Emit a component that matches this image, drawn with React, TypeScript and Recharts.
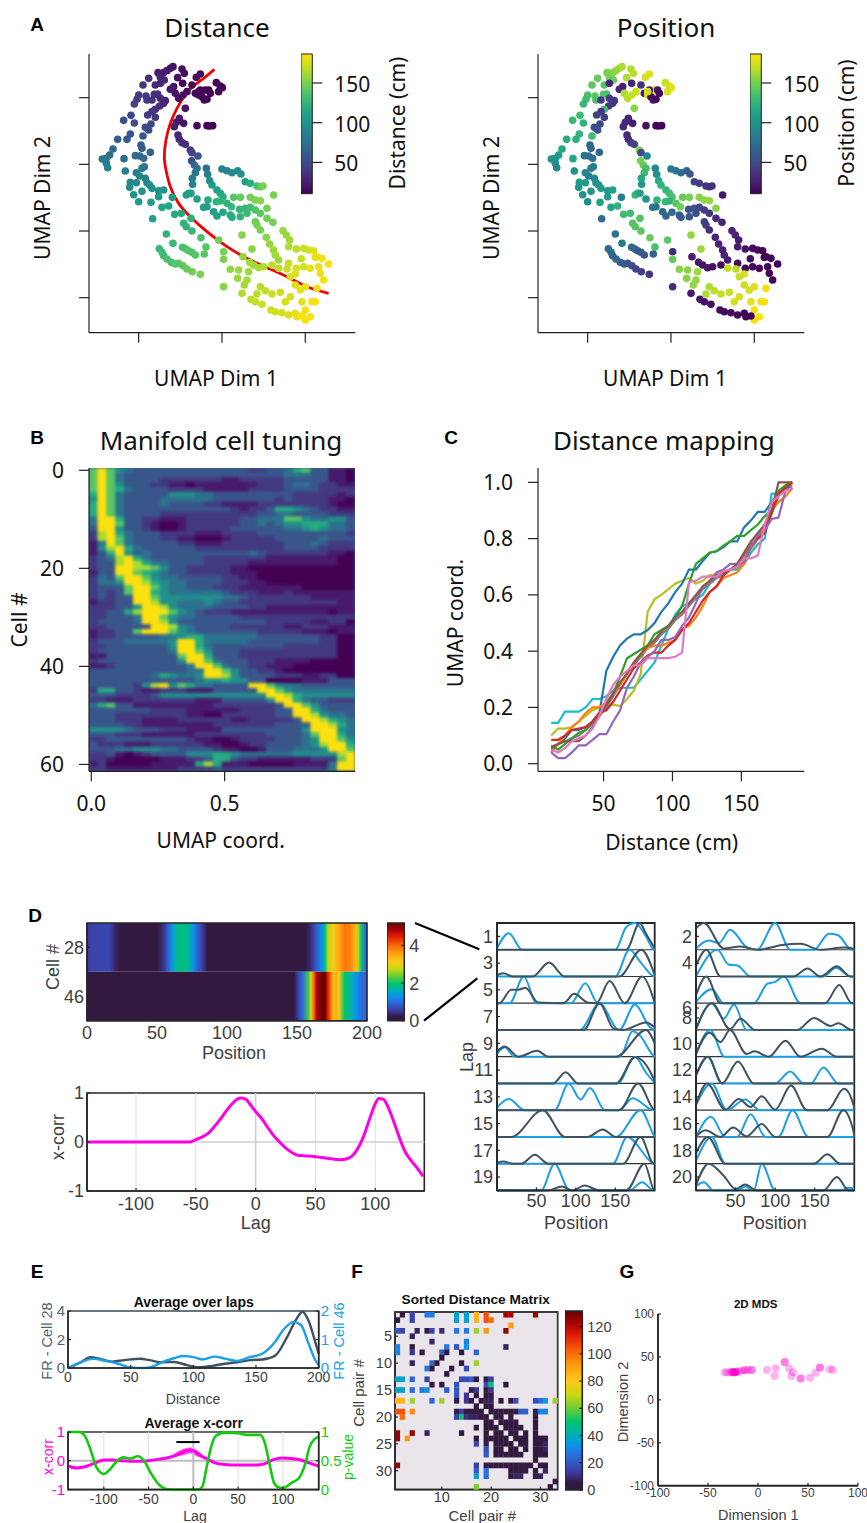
import {
  Area,
  ComposedChart,
  Line,
  ReferenceArea,
  ReferenceLine,
  Scatter,
  XAxis,
  YAxis,
} from 'recharts'

const MYRIAD = '"Noto Sans", sans-serif'
const ARIAL = '"Liberation Sans", Arial, sans-serif'
const GREY = '#404040'
const DARK_CELL = '#3d5360'
const BLUE_CELL = '#1b9fe6'
const MAGENTA = '#ff00e6'
const GREEN = '#12cc0c'

// UMAP embedding, one row per time bin: [dim 1, dim 2, distance cm, position cm]
const UMAP_TOP_ARC = [
  [103, 693, 18, 165], [95, 688, 20, 165], [85, 681, 22, 160], [75, 675, 25, 155], [58, 675, 25, 150],
  [65, 661, 28, 150], [77, 653, 28, 145], [30, 658, 35, 145], [13, 638, 38, 142], [50, 638, 32, 140],
  [65, 643, 30, 28], [130, 686, 18, 165], [137, 673, 15, 168], [117, 660, 18, 165], [132, 643, 15, 30],
  [185, 671, 15, 178], [173, 661, 15, 175], [160, 638, 15, 35], [233, 645, 13, 172], [245, 635, 13, 175],
  [251, 630, 13, 178], [240, 618, 14, 176], [105, 633, 20, 25], [95, 625, 22, 28], [110, 613, 20, 165],
  [0, 608, 42, 135], [-5, 595, 42, 132], [-13, 581, 45, 128], [22, 605, 40, 140], [25, 593, 40, 135],
  [47, 610, 35, 140], [57, 611, 35, 135], [65, 598, 32, 42], [80, 591, 30, 38], [40, 593, 36, 42],
  [120, 598, 18, 168], [133, 608, 16, 170], [145, 618, 15, 172], [170, 613, 12, 22], [180, 608, 12, 175],
  [190, 603, 11, 15], [200, 623, 11, 178], [210, 623, 11, 20], [215, 613, 11, 15], [185, 623, 12, 22],
  [197, 593, 11, 20], [205, 595, 11, 15], [180, 618, 12, 175],
]
const UMAP_INNER = [
  [75, 583, 30, 38], [63, 575, 32, 38], [50, 565, 35, 130], [40, 558, 38, 40], [27, 548, 40, 45],
  [50, 541, 38, 42], [-23, 547, 48, 130], [-45, 532, 52, 128], [-13, 524, 52, 125], [140, 568, 20, 155],
  [122, 538, 22, 28], [113, 526, 24, 30], [107, 513, 25, 30], [135, 523, 20, 25], [175, 516, 14, 18],
  [205, 516, 12, 15], [222, 516, 11, 12], [212, 515, 12, 14],
]
const UMAP_LEFT = [
  [37, 521, 48, 50], [20, 511, 50, 52], [30, 503, 50, 55], [13, 485, 58, 130], [-25, 491, 55, 125],
  [-35, 475, 58, 122], [-63, 475, 62, 120], [7, 458, 62, 68], [10, 448, 62, 68], [-77, 446, 68, 118],
  [-87, 428, 75, 110], [-97, 418, 78, 105], [-109, 416, 80, 100], [-97, 403, 85, 95], [-93, 390, 88, 90],
  [35, 436, 65, 70], [-10, 426, 72, 78], [3, 425, 70, 75], [15, 418, 72, 78], [-44, 417, 75, 115],
  [17, 393, 78, 82], [10, 388, 80, 85], [-7, 375, 85, 90], [-40, 380, 88, 100], [3, 365, 88, 88],
  [20, 358, 85, 92], [25, 345, 88, 98], [-25, 346, 92, 105], [-7, 345, 92, 105], [-27, 331, 95, 105],
  [33, 338, 95, 102], [40, 328, 98, 105], [60, 321, 100, 105], [75, 323, 102, 110], [10, 319, 100, 102],
  [-15, 309, 102, 100], [60, 303, 105, 108], [0, 288, 105, 95], [37, 286, 108, 110], [101, 301, 105, 85],
  [150, 313, 108, 120], [143, 308, 108, 125], [157, 313, 108, 112], [70, 271, 112, 115], [90, 275, 112, 122],
  [108, 250, 118, 130], [128, 253, 118, 132], [42, 237, 108, 72], [157, 238, 122, 138], [135, 223, 125, 138],
  [143, 213, 125, 140], [160, 200, 128, 142], [83, 191, 125, 78], [187, 180, 135, 145], [103, 163, 130, 82],
  [202, 152, 140, 135], [197, 131, 140, 65], [132, 151, 135, 70], [142, 146, 136, 68], [150, 141, 138, 62],
  [160, 136, 138, 60], [170, 128, 140, 58], [62, 147, 128, 72], [70, 136, 130, 72], [75, 126, 132, 70],
  [85, 116, 135, 68], [98, 106, 135, 65], [110, 101, 138, 60], [120, 103, 140, 55], [133, 96, 142, 52],
  [145, 86, 145, 48], [161, 78, 148, 45], [185, 70, 152, 38],
]
const UMAP_CENTRE = [
  [118, 488, 28, 30], [122, 475, 30, 32], [130, 465, 32, 40], [140, 460, 35, 45], [155, 443, 40, 155],
  [160, 435, 45, 48], [178, 425, 58, 92], [159, 411, 52, 150], [167, 398, 68, 145], [175, 388, 75, 135],
  [170, 375, 78, 130], [161, 358, 85, 118], [162, 340, 90, 105], [203, 388, 75, 92], [207, 370, 85, 100],
  [213, 351, 98, 118], [220, 338, 105, 125], [235, 323, 110, 125], [245, 313, 115, 130], [253, 303, 120, 135],
  [285, 301, 140, 145], [305, 301, 145, 150], [335, 301, 150, 155], [350, 293, 152, 158], [365, 291, 155, 158],
  [405, 308, 150, 22], [233, 288, 122, 130], [245, 290, 125, 125], [265, 283, 125, 140], [278, 273, 128, 148],
  [208, 293, 118, 125], [175, 296, 112, 102], [195, 271, 108, 80], [205, 273, 108, 78], [225, 258, 112, 72],
  [235, 245, 112, 68], [253, 256, 115, 70], [275, 248, 118, 62], [280, 241, 120, 62], [303, 265, 125, 58],
  [305, 243, 125, 60], [320, 268, 128, 55], [325, 253, 130, 52], [335, 271, 132, 48], [350, 263, 138, 42],
  [365, 253, 142, 38], [385, 268, 150, 155], [385, 238, 148, 32], [403, 226, 150, 28], [240, 173, 148, 142],
  [310, 188, 155, 158], [340, 146, 155, 160],
  [250, 386, 85, 82], [265, 381, 88, 78], [280, 375, 92, 72], [297, 381, 95, 65], [307, 371, 100, 58],
  [320, 348, 110, 48], [335, 343, 120, 42], [355, 335, 135, 38], [365, 333, 142, 35], [373, 335, 150, 35],
]
const UMAP_LOWER = [
  [350, 228, 148, 45], [355, 218, 150, 42], [365, 203, 152, 35], [383, 181, 155, 30], [393, 161, 158, 28],
  [405, 143, 160, 27], [410, 128, 162, 25], [420, 113, 162, 25], [433, 201, 158, 28], [443, 188, 160, 28],
  [453, 173, 162, 25], [450, 153, 165, 25], [473, 146, 168, 20], [495, 148, 172, 15], [510, 143, 175, 14],
  [525, 141, 178, 12], [535, 123, 182, 12], [550, 118, 185, 12], [570, 101, 187, 10], [488, 117, 172, 15],
  [530, 121, 180, 12], [255, 138, 150, 32], [255, 115, 152, 145], [313, 123, 158, 25], [275, 85, 158, 155],
  [333, 106, 162, 22], [345, 98, 162, 20], [360, 90, 165, 20], [375, 93, 165, 18], [400, 98, 168, 16],
  [420, 88, 168, 170], [450, 103, 172, 15], [445, 86, 172, 168], [473, 88, 175, 14], [495, 93, 175, 14],
  [470, 71, 178, 175], [455, 63, 175, 172], [515, 88, 180, 12], [540, 93, 182, 12], [545, 73, 182, 12],
  [555, 53, 185, 12], [470, 38, 178, 172], [485, 23, 180, 175], [500, 33, 182, 178], [535, 28, 185, 185],
  [330, 78, 162, 160], [300, 83, 160, 155], [297, 58, 160, 155], [325, 53, 162, 158], [317, 38, 162, 158],
  [255, 33, 155, 30], [310, 13, 165, 25], [365, 33, 168, 165], [380, 21, 170, 168], [355, 11, 168, 165],
  [400, 11, 172, 170], [425, 16, 174, 172], [455, 3, 176, 175], [440, -12, 176, 175], [490, -12, 180, 180],
  [520, -12, 184, 185], [530, -12, 184, 185], [337, -5, 168, 20], [350, -12, 170, 20], [370, -20, 172, 20],
  [397, -37, 174, 15], [410, -42, 175, 15], [430, -45, 176, 15], [450, -52, 178, 14], [470, -47, 180, 12],
  [475, -57, 182, 12], [500, -37, 184, 185], [515, -57, 186, 186], [500, -67, 186, 186], [490, -55, 185, 12],
]
const PRINCIPAL_CURVE = [
  [227, 685], [195, 658], [165, 635], [140, 608], [115, 568], [95, 523], [82, 473], [77, 423], [82, 383],
  [95, 333], [120, 283], [155, 243], [205, 198], [265, 153], [325, 118], [385, 90], [445, 63], [505, 33], [570, 13],
]

// Manifold cell tuning, one string per cell, one digit (0-9) per UMAP coordinate bin
const TUNING_ROWS = [
  '797543333333333333223346733110', '797433333333333333333344433110', '797433332222222112222233333110',
  '797533322110111111122234432211', '797643333222211111222233332222', '697433333555443333333332222212',
  '597433334444443333333232222110', '697433334333322111122222222100', '697433333333333321223665432211',
  '697433332222222222233443333222', '499633221112222223344477544553', '499733210012222223343455666443',
  '399533210012222233333344565443', '289643332222111222233333333332', '289743332211000122222333334333',
  '149743333322111222222233343222', '158964333333222222222233332222', '136953433333333333432222222110',
  '234896433333322222221111111100', '233898644333322222111111111100', '233998875332222211000000000000',
  '133997654332222211100000000000', '243799754433333221100000000000', '244599865443333222110000000000',
  '233379975443332221111111000000', '232379965444444322211121111111', '232339975555555443222222211111',
  '122339985544454332222222222211', '222335998544443333221111111111', '223368999754322211111111111011',
  '223334997544333332222222222222', '233334998533333333332222211220', '223333399854333322222211222111',
  '122337999754333333322222111011', '122333334456644444433333332200', '233344444599644444333333332200',
  '223333333599643333333322222200', '233333333499753332222222222200', '113333333379963332222222222200',
  '233333333359974333222111100000', '112333333334997433221110000000', '333333333334499753322100000000',
  '333333346544599853333222112200', '333333333333455655330000111333', '333332589576443333997544333333',
  '266332112221113333399754444444', '333222235555555555559986555555', '221112222222111333335996433222',
  '467331111111112222222399753333', '333333322221111112222339964333', '333222222221100222222339985443',
  '333222111122222211222223998654', '333322111111112222222333399864', '555543332221111333333333599954',
  '333222111111222222223333479964', '223333333332110012222333459975', '322211122222211001223333458996',
  '333445554433332110013334445997', '223101233335556654444445555589', '221000001112236632211111122279',
  '120000011111686111000001111499', '221111111122223222222222222499',
]
const TUNING_TICKS_X = [0, 0.5]
const TUNING_TICKS_Y = [0, 20, 40, 60]

// Distance mapping
const MAP_DISTANCE = [12, 17, 22, 27, 32, 37, 42, 47, 52, 57, 62, 67, 72, 77, 82, 87, 92, 97, 102, 107, 112, 117, 122, 127, 132, 137, 142, 147, 152, 157, 162, 167, 172, 177, 182, 187]
const MAP_CYAN = [.145, .145, .185, .185, .185, .2, .23, .23, .24, .26, .27, .27, .27, .3, .33, .36, .42, .48, .53, .56, .57, .585, .6, .64, .66, .68, .69, .69, .71, .75, .78, .8, .96, .96, .98, .975]
const MAP_OLIVE = [.1, .125, .125, .13, .15, .17, .19, .2, .205, .21, .205, .23, .26, .32, .54, .585, .6, .62, .64, .65, .66, .64, .65, .67, .67, .68, .69, .7, .74, .76, .8, .83, .89, .96, .98, 1]
const MAP_GRAY = [.06, .07, .08, .09, .1, .12, .14, .17, .2, .24, .28, .32, .35, .38, .41, .43, .46, .48, .51, .53, .56, .59, .62, .64, .66, .67, .69, .7, .74, .78, .8, .84, .89, .95, .98, .99]
const MAP_BLUE = [.05, .07, .09, .12, .12, .13, .15, .18, .33, .38, .42, .445, .46, .46, .475, .5, .54, .57, .61, .64, .69, .69, .72, .75, .755, .77, .79, .79, .84, .865, .895, .895, .93, .96, .98, .98]
const MAP_ORANGE = [.04, .07, .1, .13, .15, .18, .2, .2, .22, .25, .28, .32, .36, .39, .41, .42, .42, .43, .44, .48, .49, .52, .56, .61, .63, .66, .67, .68, .71, .77, .8, .85, .9, .93, .95, .98]
const MAP_GREEN = [.065, .05, .07, .09, .11, .12, .15, .18, .21, .25, .31, .375, .39, .405, .42, .46, .475, .49, .52, .56, .64, .71, .73, .75, .755, .775, .79, .81, .81, .83, .85, .88, .9, .97, .99, 1]
const MAP_RED = [.085, .085, .1, .12, .125, .13, .15, .18, .19, .22, .26, .3, .34, .36, .385, .395, .395, .42, .44, .475, .5, .54, .58, .61, .63, .67, .69, .7, .72, .77, .8, .82, .89, .96, .98, 1]
const MAP_PURPLE = [.04, .02, .02, .04, .065, .065, .085, .105, .105, .15, .19, .27, .31, .36, .38, .4, .44, .44, .45, .49, .52, .57, .63, .65, .68, .69, .71, .71, .72, .77, .81, .83, .87, .875, .97, .98]
const MAP_BROWN = [.055, .07, .08, .08, .08, .1, .13, .17, .21, .25, .29, .32, .36, .39, .42, .44, .47, .49, .52, .54, .57, .6, .63, .65, .67, .68, .69, .71, .75, .79, .82, .85, .9, 1, 1, 1]
const MAP_PINK = [.05, .04, .055, .08, .09, .1, .125, .17, .23, .28, .31, .33, .35, .35, .375, .375, .375, .375, .38, .395, .645, .65, .665, .665, .665, .685, .69, .7, .73, .73, .74, .85, .93, .95, .97, .98]
const MAP_SERIES: [number[], string][] = [
  [MAP_CYAN, '#17becf'], [MAP_OLIVE, '#bcbd22'], [MAP_GRAY, '#7f7f7f'], [MAP_BLUE, '#1f77b4'], [MAP_ORANGE, '#ff7f0e'],
  [MAP_GREEN, '#2ca02c'], [MAP_RED, '#d62728'], [MAP_PURPLE, '#9467bd'], [MAP_BROWN, '#8c564b'], [MAP_PINK, '#e377c2'],
]

// Mean rate by position for the two example cells
const RATE_28 = [[0, .5], [4, .62], [16, .62], [20, .35], [24, .05], [26, 0], [48, 0], [50, .1], [54, .4], [58, .9], [60, 1.2], [62, 1.5], [64, 1.8], [70, 1.9], [74, 1.6], [76, 1.3], [78, 1], [82, .6], [86, .1], [88, 0], [150, 0], [156, .1], [160, .4], [164, .9], [168, 1.3], [170, 1.9], [172, 2.7], [176, 3.1], [180, 3.5], [184, 3.9], [188, 3.8], [192, 3.3], [194, 2.6], [196, 2], [198, 1.2], [200, .9]]
const RATE_46 = [[0, 0], [146, 0], [148, .1], [150, .5], [154, 1], [158, 2.2], [160, 3], [162, 4], [164, 4.8], [168, 5.2], [170, 5.2], [172, 4.5], [174, 4], [176, 3.2], [178, 3.5], [180, 3], [184, 2], [188, 1.7], [192, 1.3], [196, 1], [200, .9]]

const XCORR = [[-140, 0], [-55, 0], [-50, .05], [-45, .1], [-40, .17], [-35, .3], [-30, .45], [-25, .62], [-20, .77], [-15, .88], [-12, .9], [-8, .87], [-5, .78], [0, .62], [5, .48], [10, .3], [15, .13], [20, 0], [25, -.12], [30, -.21], [35, -.27], [40, -.28], [50, -.3], [60, -.33], [70, -.36], [75, -.35], [80, -.3], [85, -.15], [90, .1], [95, .45], [100, .78], [103, .89], [107, .87], [110, .75], [115, .45], [120, .1], [125, -.2], [130, -.38], [135, -.53], [140, -.7]]

// Per-lap rates: [position, normalised rate] at the turning points of each trace
const ODD_LAPS = [
  { lap: 1, c28: [[164, 0], [181, 1], [189, .6], [200, .05]], c46: [[0, .05], [15, .62], [32, 0], [150, 0], [164, .85], [175, 1], [189, .5], [199, 0]] },
  { lap: 3, c28: [[0, .05], [8, .12], [20, 0], [45, 0], [66, .52], [86, 0], [155, 0], [183, 1], [200, .05]], c46: [[150, 0], [168, 1], [183, .5], [198, .02]] },
  { lap: 5, c28: [[3, 0], [18, .5], [27, .5], [36, .58], [52, .03], [84, 0], [98, .35], [115, .03], [126, 0], [143, .83], [162, 0], [184, 1], [199, .1]], c46: [[16, 0], [34, 1], [50, 0], [94, 0], [112, .75], [128, 0]] },
  { lap: 7, c28: [[110, 0], [130, 1], [148, .05], [160, 0], [189, .28], [200, .1]], c46: [[105, 0], [130, .98], [155, 0], [175, .95], [194, .1], [200, 0]] },
  { lap: 9, c28: [[0, .2], [10, .38], [27, 0], [51, .22], [65, 0], [151, 0], [189, 1], [200, .5]], c46: [[0, .1], [10, .35], [22, 0], [156, 0], [172, .95], [181, .8], [199, .02]] },
  { lap: 11, c28: [[71, 0], [87, .42], [103, 0], [151, 0], [175, .98], [199, .15]], c46: [[153, 0], [175, 1], [189, .4], [200, .02]] },
  { lap: 13, c28: [[155, 0], [179, 1], [199, .02]], c46: [[0, .1], [15, .42], [35, 0], [73, 0], [91, 1], [106, .4], [118, .83], [137, 0], [155, 0], [172, .45], [199, 0]] },
  { lap: 15, c28: [[18, 0], [58, 1], [86, 0], [115, 0], [134, .28], [151, 0]], c46: [[151, 0], [182, 1], [199, .05]] },
  { lap: 17, c28: [[0, .03], [8, .08], [20, 0], [31, 0], [48, .33], [65, 0], [160, 0], [182, 1], [199, 0]], c46: [[147, 0], [165, 1], [198, .02]] },
  { lap: 19, c28: [[65, 0], [82, .15], [96, 0], [111, .18], [130, 0], [164, 0], [187, 1], [199, .02]], c46: [[56, 0], [73, 1], [92, 0], [168, 0], [184, .3], [199, 0]] },
]
const EVEN_LAPS = [
  { lap: 2, c28: [[0, .8], [10, 1], [35, .05], [56, .12], [79, 0], [109, .18], [132, .22], [157, 0], [187, .08], [200, .03]], c46: [[0, .05], [16, .35], [29, .25], [43, .75], [64, .1], [77, 0], [100, 1], [119, 0], [149, 0], [168, .6], [179, .55], [197, 0]] },
  { lap: 4, c28: [[0, .4], [13, 1], [31, 0], [123, 0], [141, .3], [157, 0], [178, .38], [195, 0]], c46: [[0, 0], [27, 1], [41, .45], [53, .4], [69, 0], [161, 0], [177, .33], [195, 0]] },
  { lap: 6, c28: [[0, .3], [13, 1], [31, 0], [163, 0], [181, .68], [197, 0]], c46: [[0, .05], [20, .52], [35, 0], [73, 0], [90, .72], [100, .8], [111, 1], [132, 0]] },
  { lap: 8, c28: [[0, .05], [20, 1], [43, .03], [56, .42], [75, 0], [128, 0], [149, .45], [170, .15], [180, .25], [197, 0]], c46: [[0, 0], [20, 1], [35, .42], [48, .95], [64, 0]] },
  { lap: 10, c28: [[0, .1], [17, .9], [31, .55], [43, 1], [64, .1], [74, .2], [92, 0], [113, .6], [132, 0], [159, .3], [178, 0]], c46: [[0, .1], [18, 1], [36, 0]] },
  { lap: 12, c28: [[0, .3], [15, 1], [33, 0], [53, .82], [73, 0]], c46: [[0, .3], [15, 1], [33, 0], [100, 0], [119, .45], [136, 0], [145, 0], [161, .6], [180, 0]] },
  { lap: 14, c28: [[0, .2], [14, 1], [37, .02], [54, .42], [69, .12], [83, .52], [100, .02], [120, .92], [140, 0], [166, 0], [187, .8], [199, .2]], c46: [[0, .2], [20, 1], [39, 0], [62, .4], [81, 0]] },
  { lap: 16, c28: [[0, .02], [12, .25], [31, 0], [47, .35], [64, .02], [83, .48], [100, 0], [166, 0], [186, 1], [199, .2]], c46: [[0, 0], [19, .75], [37, 0], [52, 0], [69, .85], [88, 0], [104, 0], [122, 1], [142, 0]] },
  { lap: 18, c28: [[0, .4], [15, 1], [37, 0], [149, 0], [166, .35], [182, 0]], c46: [[0, .1], [20, 1], [37, 0]] },
  { lap: 20, c28: [[0, .2], [16, 1], [35, .55], [50, .05], [62, .22], [77, 0], [161, 0], [178, .5], [193, 0]], c46: [[0, .15], [10, .3], [22, 0], [52, 0], [62, .15], [73, 0], [83, 1], [100, 0], [182, 0], [193, .1], [200, .05]] },
]
const ODD_TICKS = [[9.5, '1'], [8.5, '3'], [7.5, '5'], [6.5, '7'], [5.5, '9'], [4.5, '11'], [3.5, '13'], [2.5, '15'], [1.5, '17'], [0.5, '19']]
const EVEN_TICKS = [[9.5, '2'], [8.5, '4'], [6.82, '6'], [6.45, '8'], [5.5, '10'], [4.5, '12'], [3.5, '14'], [2.5, '16'], [1.5, '18'], [0.5, '20']]

// Averages over laps
const AVG_28 = [[0, 0], [10, .4], [18, .75], [25, .65], [35, .45], [45, .55], [58, .65], [65, .55], [75, .4], [85, .42], [95, .2], [105, .05], [115, .15], [125, .3], [135, .4], [145, .55], [155, .6], [165, .85], [175, 2.2], [182, 3.4], [187, 3.95], [192, 3.3], [197, 1.9], [200, 1]]
const AVG_46 = [[0, 0], [5, .1], [20, .32], [30, .25], [40, .15], [50, .02], [58, 0], [65, .02], [75, .2], [85, .35], [92, .42], [100, .38], [107, .3], [117, .4], [125, .33], [135, .25], [145, .38], [155, .5], [165, .9], [172, 1.35], [180, 1.62], [186, 1.5], [192, .85], [197, .3], [200, .1]]
const AVG_XCORR = [[-140, -.18], [-130, -.25], [-120, -.2], [-110, -.08], [-100, .03], [-90, .03], [-80, 0], [-60, -.02], [-50, 0], [-40, .05], [-30, .1], [-20, .18], [-10, .32], [-4, .37], [0, .35], [5, .25], [10, .15], [15, .07], [25, -.08], [35, -.13], [50, -.15], [70, -.15], [80, -.1], [90, .05], [100, .1], [110, .08], [120, .03], [130, -.08], [140, -.18]]
const XCORR_BAND = [[-25, .13, .17], [-10, .2, .43], [-4, .25, .46], [5, .14, .34], [12, .08, .16]]
const P_VALUE = [[-140, 1], [-128, 1], [-122, .95], [-115, .7], [-108, .38], [-100, .27], [-92, .37], [-85, .5], [-78, .56], [-70, .54], [-62, .58], [-55, .5], [-48, .3], [-38, .08], [-30, .01], [-20, 0], [5, 0], [10, .05], [15, .4], [20, .75], [25, .93], [35, .99], [50, .98], [60, .95], [75, .95], [80, .8], [85, .45], [90, .12], [95, .04], [100, .03], [110, .12], [118, .2], [125, .45], [130, .75], [135, .87], [140, .92]]

// Sorted distance matrix: [row, column, distance]
const MATRIX_UPPER = [
  [1, 2, 3], [1, 4, 15], [1, 7, 28], [1, 8, 28], [1, 13, 37], [1, 15, 37], [1, 17, 85], [1, 19, 105], [1, 23, 122], [1, 24, 122], [1, 29, 125],
  [2, 1, 4], [2, 4, 15], [2, 13, 37], [2, 15, 37], [2, 17, 85], [2, 19, 105], [2, 20, 100], [3, 24, 92],
  [4, 1, 20], [4, 2, 15], [4, 5, 8], [4, 7, 2], [4, 8, 15], [4, 10, 10], [4, 13, 28], [4, 15, 28], [4, 17, 65], [4, 19, 92], [4, 23, 125],
  [5, 4, 8], [6, 8, 9], [6, 15, 30], [7, 1, 30], [7, 4, 2], [7, 11, 28], [7, 13, 20], [7, 15, 33], [7, 23, 8],
  [8, 1, 30], [8, 4, 12], [8, 6, 6], [8, 10, 22], [8, 11, 2], [8, 14, 5], [8, 17, 24], [9, 10, 2],
  [10, 4, 8], [10, 8, 24], [10, 9, 2], [10, 14, 2], [10, 17, 65], [11, 7, 28], [11, 8, 2], [11, 12, 2], [11, 15, 18], [12, 11, 2],
  [13, 1, 37], [13, 2, 37], [13, 4, 24], [13, 7, 15], [13, 14, 18], [13, 15, 18], [13, 16, 22], [13, 17, 4], [13, 19, 6], [13, 20, 15],
  [14, 8, 2], [14, 10, 2], [14, 13, 20], [14, 19, 18], [14, 20, 50], [14, 23, 2],
  [15, 1, 37], [15, 2, 37], [15, 4, 26], [15, 6, 28], [15, 7, 32], [15, 11, 22], [15, 13, 20], [15, 16, 6], [15, 17, 12], [15, 19, 3], [15, 20, 12],
  [16, 13, 20], [16, 15, 12], [16, 17, 3], [16, 19, 3], [16, 20, 3],
]
const MATRIX_LOWER = [
  [17, 1, 85], [17, 2, 85], [17, 4, 65], [17, 8, 24], [17, 10, 65], [17, 13, 6], [17, 15, 12], [17, 16, 2], [17, 18, 2], [17, 19, 8], [17, 20, 8], [17, 22, 2], [17, 24, 2], [17, 25, 18], [17, 29, 18], [17, 30, 25], [17, 31, 36], [17, 33, 65],
  [18, 17, 2], [18, 19, 2], [18, 20, 2],
  [19, 1, 105], [19, 2, 105], [19, 4, 95], [19, 13, 6], [19, 14, 15], [19, 15, 3], [19, 16, 3], [19, 17, 3], [19, 18, 2], [19, 20, 2], [19, 21, 2], [19, 22, 2], [19, 23, 2], [19, 24, 2], [19, 25, 6], [19, 26, 22], [19, 27, 22], [19, 29, 6], [19, 30, 30], [19, 31, 30],
  [20, 2, 100], [20, 13, 15], [20, 14, 50], [20, 15, 10], [20, 16, 8], [20, 17, 8], [20, 18, 2], [20, 19, 2], [20, 21, 2], [20, 22, 2], [20, 24, 2], [20, 29, 2],
  [21, 19, 2], [21, 20, 2], [21, 22, 2], [21, 23, 2], [21, 24, 2], [21, 25, 2], [21, 29, 2],
  [22, 17, 2], [22, 19, 2], [22, 20, 2], [22, 21, 2], [22, 23, 2], [22, 24, 2], [22, 25, 2], [22, 26, 2], [22, 29, 2],
  [23, 1, 125], [23, 4, 125], [23, 7, 8], [23, 14, 2], [23, 19, 2], [23, 21, 2], [23, 22, 2], [23, 24, 2], [23, 25, 2], [23, 27, 2], [23, 29, 2],
  [24, 1, 125], [24, 3, 92], [24, 17, 2], [24, 19, 2], [24, 20, 2], [24, 21, 2], [24, 22, 2], [24, 23, 2], [24, 25, 2], [24, 26, 2], [24, 27, 2], [24, 29, 2], [24, 30, 2], [24, 31, 2],
  [25, 17, 16], [25, 19, 6], [25, 21, 2], [25, 22, 2], [25, 23, 2], [25, 24, 2], [25, 26, 2], [25, 27, 2], [25, 29, 2], [25, 30, 4], [25, 31, 8],
  [26, 19, 18], [26, 21, 2], [26, 22, 2], [26, 24, 2], [26, 25, 2], [26, 27, 2], [26, 29, 4], [26, 30, 4], [26, 31, 8],
  [27, 19, 20], [27, 21, 2], [27, 22, 2], [27, 23, 2], [27, 24, 2], [27, 25, 2], [27, 26, 2], [27, 29, 4], [27, 30, 6], [27, 31, 4],
  [28, 29, 2],
  [29, 1, 125], [29, 17, 15], [29, 19, 6], [29, 20, 2], [29, 21, 2], [29, 22, 2], [29, 23, 2], [29, 24, 2], [29, 25, 2], [29, 26, 2], [29, 27, 2], [29, 28, 2], [29, 30, 2], [29, 31, 2],
  [30, 17, 20], [30, 19, 26], [30, 24, 2], [30, 25, 4], [30, 26, 4], [30, 27, 2], [30, 29, 2], [30, 31, 8],
  [31, 17, 36], [31, 19, 26], [31, 24, 2], [31, 25, 8], [31, 26, 8], [31, 29, 2], [31, 30, 8],
  [32, 33, 2], [33, 17, 62], [33, 32, 2],
]

// Classical MDS of the distance matrix
const MDS_DIM1 = [-33.3, -31, -27.7, -26.3, -25, -25, -25, -23.7, -23, -23, -22.3, -21, -19.3, -16.7, -13.3, -13, -10, -6.3, -6.3, 9, 17.7, 16.7, 26.7, 26.7, 31, 35, 33.3, 42.7, 42.7, 52, 57.7, 62, 62, 71.7, 75]
const MDS_DIM2 = [31.8, 32.2, 32.2, 32.2, 32.2, 32, 32.4, 32.2, 32, 32.2, 32.2, 32.6, 33, 34, 34.4, 34.4, 34.8, 34.8, 34.8, 34.8, 36.7, 27.8, 44, 44, 36.7, 32, 27.8, 24.9, 24.9, 25.6, 31.5, 37.7, 37.7, 35.7, 34.8]

const VIRIDIS = [[0, '#440154'], [.1, '#482475'], [.2, '#414487'], [.3, '#355f8d'], [.4, '#2a788e'], [.5, '#21918c'], [.6, '#22a884'], [.7, '#44bf70'], [.8, '#7ad151'], [.9, '#bddf26'], [1, '#fde010']] as [number, string][]
const TURBO = [[0, '#33193f'], [.04, '#33193f'], [.1, '#3d3aa0'], [.2, '#2a70e0'], [.25, '#0a94ea'], [.31, '#00aeb4'], [.38, '#00c46e'], [.46, '#70cc38'], [.53, '#c8d812'], [.61, '#ffc81a'], [.7, '#ff9a10'], [.78, '#f86008'], [.86, '#e02006'], [.93, '#a80404'], [1, '#6a0000']] as [number, string][]

function mapColor(stops: [number, string][], t: number) {
  const v = Math.max(0, Math.min(1, t))
  const i = Math.max(0, stops.findIndex(s => s[0] >= v) - 1)
  const [t0, c0] = stops[i]
  const [t1, c1] = stops[i + 1]
  const f = (v - t0) / (t1 - t0)
  const channel = (k: number) => {
    const a = parseInt(c0.slice(k, k + 2), 16)
    const b = parseInt(c1.slice(k, k + 2), 16)
    return Math.round(a + (b - a) * f)
  }
  return `rgb(${channel(1)},${channel(3)},${channel(5)})`
}
const viridisCm = (cm: number) => mapColor(VIRIDIS, (cm - 10.6) / 176)

const xy = (pts: number[][]) => pts.map(([x, y]) => ({ x, y }))

const PAD_SIDE = 60
const PAD_TOP = 20
const PAD_BOTTOM = 60

// Each chart sits in a padded svg so that the plot rectangle lands on page coordinates
function place(plot: number[], rightAxis = false) {
  const [l, t, r, b] = plot
  return {
    width: r - l + 2 * PAD_SIDE,
    height: b - t + PAD_TOP + PAD_BOTTOM,
    margin: { top: PAD_TOP, left: 0, bottom: 0, right: rightAxis ? 0 : PAD_SIDE },
    style: { position: 'absolute', left: l - PAD_SIDE, top: t - PAD_TOP } as const,
  }
}

// Charts made only of axes and reference areas still need a series, or the axes stay empty
function axisAnchor(x: number[], y: number[]) {
  return (
    <Line
      data={[{ x: x[0], y: y[0] }, { x: x[1], y: y[1] }]}
      dataKey="y"
      stroke="none"
      dot={false}
      isAnimationActive={false}
    />
  )
}

function Txt({ x, y, size, children, font = ARIAL, color = GREY, rotate = 0, weight = 400 }: any) {
  return (
    <div
      style={{
        position: 'absolute',
        left: x,
        top: y,
        transform: `translate(-50%, -50%) rotate(${rotate}deg)`,
        whiteSpace: 'nowrap',
        fontSize: size,
        fontFamily: font,
        color,
        fontWeight: weight,
        lineHeight: 1,
      }}
    >
      {children}
    </div>
  )
}

function PanelLetter({ x, y, children }: any) {
  return <Txt x={x} y={y} size={19} color="#000" weight={700}>{children}</Txt>
}

function Gradient({ id, stops, horizontal = false }: { id: string; stops: [number, string][]; horizontal?: boolean }) {
  return (
    <defs>
      <linearGradient id={id} x1="0" y1={horizontal ? '0' : '1'} x2={horizontal ? '1' : '0'} y2="0">
        {stops.map(([o, c]) => <stop key={o} offset={o} stopColor={c} />)}
      </linearGradient>
    </defs>
  )
}

function Colorbar({ plot, id, stops, domain, ticks, size, font, tickSize = 10, strokeWidth = 1, tickColor = '#222' }: any) {
  const [l, t, r, b] = plot
  return (
    <div style={{ position: 'absolute', left: l, top: t - 10 }}>
      <ComposedChart width={r - l + 72} height={b - t + 20} margin={{ top: 10, bottom: 10, left: 0, right: 0 }}>
        <Gradient id={id} stops={stops} />
        <XAxis type="number" dataKey="x" domain={[0, 1]} hide />
        <YAxis
          type="number"
          orientation="right"
          width={72}
          domain={domain}
          ticks={ticks}
          interval={0}
          axisLine={false}
          tickSize={tickSize}
          tickMargin={tickSize > 0 ? 12 : 8}
          tickLine={{ stroke: tickColor, strokeWidth: 1.2 }}
          tick={{ fontSize: size, fontFamily: font, fill: font === MYRIAD ? '#111' : GREY, dy: font === MYRIAD ? 1.5 : 0 }}
        />
        <ReferenceArea x1={0} x2={1} y1={domain[0]} y2={domain[1]} fill={`url(#${id})`} stroke={tickColor} strokeWidth={strokeWidth} fillOpacity={1} ifOverflow="visible" />
        {axisAnchor([0, 1], domain)}
      </ComposedChart>
    </div>
  )
}

function UmapPanel({ dx, colorKey, title, barLabel }: { dx: number; colorKey: number; title: string; barLabel: string }) {
  const rows = [...UMAP_TOP_ARC, ...UMAP_INNER, ...UMAP_LEFT, ...UMAP_CENTRE, ...UMAP_LOWER]
  const points = rows.map(r => ({ x: r[0], y: r[1], value: r[colorKey] }))
  const box = place([88.7 + dx, 54, 355 + dx, 332.7])
  const tickFont = { fontSize: 21, fontFamily: MYRIAD, fill: '#111' }
  return (
    <>
      <Txt x={217 + dx} y={27} size={26} font={MYRIAD} color="#111">{title}</Txt>
      <Txt x={41.7 + dx} y={198} size={21} font={MYRIAD} color="#111" rotate={-90}>UMAP Dim 2</Txt>
      <Txt x={216 + dx} y={378} size={21} font={MYRIAD} color="#111">UMAP Dim 1</Txt>
      <Txt x={396.7 + dx} y={122.7} size={21} font={MYRIAD} color="#111" rotate={-90}>{barLabel}</Txt>
      <div style={box.style}>
        <ComposedChart width={box.width} height={box.height} margin={box.margin}>
          <XAxis
            type="number"
            dataKey="x"
            height={PAD_BOTTOM}
            domain={[-149, 650]}
            ticks={[0, 250, 500]}
            tickFormatter={() => ''}
            tickSize={10}
            tickLine={{ stroke: '#222', strokeWidth: 1.2 }}
            axisLine={{ stroke: '#222', strokeWidth: 1.2 }}
            tick={tickFont}
          />
          <YAxis
            type="number"
            dataKey="y"
            width={PAD_SIDE}
            domain={[-105, 731]}
            ticks={[0, 200, 400, 600]}
            tickFormatter={() => ''}
            tickSize={10}
            tickLine={{ stroke: '#222', strokeWidth: 1.2 }}
            axisLine={{ stroke: '#222', strokeWidth: 1.2 }}
            tick={tickFont}
          />
          <Scatter
            data={points}
            dataKey="y"
            isAnimationActive={false}
            shape={(p: any) => <circle cx={p.cx} cy={p.cy} r={3.8} fill={viridisCm(p.payload.value)} />}
          />
          {colorKey === 2 && (
            <Line
              data={xy(PRINCIPAL_CURVE)}
              dataKey="y"
              type="natural"
              stroke="#f00000"
              strokeWidth={2.8}
              dot={false}
              isAnimationActive={false}
            />
          )}
        </ComposedChart>
      </div>
      <Colorbar
        plot={[301 + dx, 54.3, 312.3 + dx, 194]}
        id={`viridis-${colorKey}`}
        stops={VIRIDIS}
        domain={[10.6, 186.5]}
        ticks={[50, 100, 150]}
        size={21}
        font={MYRIAD}
      />
    </>
  )
}

function TuningPanel() {
  const cells = TUNING_ROWS.flatMap((row, r) => row.split('').map((d, c) => ({ x: c + 0.5, y: r, level: Number(d) })))
  const plotW = 266.3
  const plotH = 303.3
  const cellW = plotW / 30 + 1
  const cellH = plotH / 61.87 + 1
  const box = place([88.7, 467.7, 355, 771])
  const tickFont = { fontSize: 21, fontFamily: MYRIAD, fill: '#111' }
  return (
    <>
      <Txt x={221} y={440} size={26} font={MYRIAD} color="#111">Manifold cell tuning</Txt>
      <Txt x={19.3} y={620} size={21} font={MYRIAD} color="#111" rotate={-90}>Cell #</Txt>
      <Txt x={220.7} y={840} size={21} font={MYRIAD} color="#111">UMAP coord.</Txt>
      <div style={{ position: 'absolute', left: 88.7, top: 467.7, width: plotW, height: plotH, overflow: 'hidden', background: '#31688e' }}>
        <div style={{ filter: 'blur(1.5px)' }}>
          <ComposedChart width={plotW} height={plotH} margin={{ top: 0, left: 0, right: 0, bottom: 0 }}>
            <XAxis type="number" dataKey="x" domain={[0, 30]} hide />
            <YAxis type="number" dataKey="y" domain={[-0.47, 61.4]} reversed hide />
            <Scatter
              data={cells}
              dataKey="y"
              isAnimationActive={false}
              shape={(p: any) => (
                <rect
                  x={p.cx - cellW / 2}
                  y={p.cy - cellH / 2}
                  width={cellW}
                  height={cellH}
                  fill={mapColor(VIRIDIS, Math.pow(p.payload.level / 9, 1.2))}
                />
              )}
            />
          </ComposedChart>
        </div>
      </div>
      <div style={box.style}>
        <ComposedChart width={box.width} height={box.height} margin={box.margin}>
          <XAxis
            type="number"
            dataKey="x"
            height={PAD_BOTTOM}
            domain={[-0.0086, 0.99]}
            ticks={TUNING_TICKS_X}
            interval={0}
            tickFormatter={(v: number) => v.toFixed(1)}
            tickSize={10}
            tickMargin={15}
            tickLine={{ stroke: '#222', strokeWidth: 1.2 }}
            axisLine={{ stroke: '#222', strokeWidth: 1.2 }}
            tick={tickFont}
          />
          <YAxis
            type="number"
            width={PAD_SIDE}
            reversed
            domain={[-0.47, 61.4]}
            ticks={TUNING_TICKS_Y}
            interval={0}
            tickSize={10}
            tickMargin={15}
            tickLine={{ stroke: '#222', strokeWidth: 1.2 }}
            axisLine={{ stroke: '#222', strokeWidth: 1.2 }}
            tick={tickFont}
          />
          {axisAnchor([0, 0.9], [0, 60])}
        </ComposedChart>
      </div>
    </>
  )
}

function MappingPanel() {
  const box = place([537.7, 467.7, 804, 771])
  const tickFont = { fontSize: 21, fontFamily: MYRIAD, fill: '#111' }
  return (
    <>
      <Txt x={663.8} y={440} size={26} font={MYRIAD} color="#111">Distance mapping</Txt>
      <Txt x={455} y={623} size={21} font={MYRIAD} color="#111" rotate={-90}>UMAP coord.</Txt>
      <Txt x={671.7} y={841.7} size={21} font={MYRIAD} color="#111">Distance (cm)</Txt>
      <div style={box.style}>
        <ComposedChart width={box.width} height={box.height} margin={box.margin}>
          <XAxis
            type="number"
            dataKey="x"
            height={PAD_BOTTOM}
            domain={[2.4, 195.7]}
            ticks={[50, 100, 150]}
            interval={0}
            tickSize={10}
            tickMargin={15}
            tickLine={{ stroke: '#222', strokeWidth: 1.2 }}
            axisLine={{ stroke: '#222', strokeWidth: 1.2 }}
            tick={tickFont}
          />
          <YAxis
            type="number"
            width={PAD_SIDE}
            domain={[-0.027, 1.051]}
            ticks={[0, 0.2, 0.4, 0.6, 0.8, 1]}
            interval={0}
            tickFormatter={(v: number) => v.toFixed(1)}
            tickSize={10}
            tickMargin={15}
            tickLine={{ stroke: '#222', strokeWidth: 1.2 }}
            axisLine={{ stroke: '#222', strokeWidth: 1.2 }}
            tick={tickFont}
          />
          {MAP_SERIES.map(([values, color]) => (
            <Line
              key={color}
              data={values.map((y, i) => ({ x: MAP_DISTANCE[i], y }))}
              dataKey="y"
              stroke={color}
              strokeWidth={2.2}
              dot={false}
              isAnimationActive={false}
            />
          ))}
        </ComposedChart>
      </div>
    </>
  )
}

// Shared look of the MATLAB-style boxed axes, with ticks pointing inward
const boxAxis = (size: number, color = GREY) => ({
  tickSize: -3,
  tickLine: { stroke: '#262626', strokeWidth: 1.2 },
  axisLine: { stroke: '#262626', strokeWidth: 1.5 },
  tick: { fontSize: size, fontFamily: ARIAL, fill: color },
})

function CellHeat() {
  const box = place([86.7, 923.3, 366.7, 1021])
  const stopsOf = (rate: number[][]) => rate.map(([pos, v]) => [pos / 200, mapColor(TURBO, v / 5.2)] as [number, string])
  return (
    <>
      <Txt x={53} y={967} size={18} rotate={-90}>Cell #</Txt>
      <Txt x={234} y={1052.7} size={18}>Position</Txt>
      <div style={box.style}>
        <ComposedChart width={box.width} height={box.height} margin={box.margin}>
          <Gradient id="row28" stops={stopsOf(RATE_28)} horizontal />
          <Gradient id="row46" stops={stopsOf(RATE_46)} horizontal />
          <XAxis type="number" dataKey="x" height={PAD_BOTTOM} domain={[0, 200]} ticks={[0, 50, 100, 150, 200]} interval={0} tickMargin={9} {...boxAxis(18)} />
          <YAxis type="number" width={PAD_SIDE} domain={[0, 2]} ticks={[0.5, 1.5]} interval={0} tickFormatter={(v: number) => (v > 1 ? '28' : '46')} tickMargin={6} {...boxAxis(18)} />
          <ReferenceArea x1={0} x2={200} y1={1} y2={2} fill="url(#row28)" fillOpacity={1} />
          <ReferenceArea x1={0} x2={200} y1={0} y2={1} fill="url(#row46)" fillOpacity={1} />
          <ReferenceArea x1={0} x2={200} y1={0} y2={2} fill="none" stroke="#262626" strokeWidth={1.6} />
          {axisAnchor([0, 200], [0, 2])}
        </ComposedChart>
      </div>
      <Colorbar
        plot={[386.7, 923.3, 404, 1021]}
        id="turbo-d"
        stops={TURBO}
        domain={[0, 5.2]}
        ticks={[0, 2, 4]}
        size={18}
        font={ARIAL}
        tickSize={-3}
        strokeWidth={1.5}
        tickColor="#262626"
      />
    </>
  )
}

function XcorrPanel() {
  const box = place([86.7, 1093.3, 424, 1191.3])
  return (
    <>
      <Txt x={58} y={1136.7} size={18} rotate={-90}>x-corr</Txt>
      <Txt x={255.7} y={1223} size={18}>Lag</Txt>
      <div style={box.style}>
        <ComposedChart width={box.width} height={box.height} margin={box.margin}>
          <XAxis type="number" dataKey="x" height={PAD_BOTTOM} domain={[-141, 141]} ticks={[-100, -50, 0, 50, 100]} interval={0} tickMargin={9} {...boxAxis(18)} />
          <YAxis type="number" width={PAD_SIDE} domain={[-1, 1]} ticks={[-1, 0, 1]} interval={0} tickMargin={6} {...boxAxis(18)} />
          {[-100, -50, 50, 100].map(v => <ReferenceLine key={v} x={v} stroke="#dedede" strokeWidth={1} />)}
          <ReferenceLine x={0} stroke="#d0d0d0" strokeWidth={1.6} />
          <ReferenceLine y={0} stroke="#d0d0d0" strokeWidth={1.6} />
          <ReferenceArea x1={-141} x2={141} y1={-1} y2={1} fill="none" stroke="#262626" strokeWidth={1.6} />
          <Line data={xy(XCORR)} dataKey="y" type="monotone" stroke={MAGENTA} strokeWidth={3} dot={false} isAnimationActive={false} />
        </ComposedChart>
      </div>
    </>
  )
}

function LapColumn({ plot, laps, ticks, showLap }: any) {
  const box = place(plot)
  const labels = new Map<number, string>(ticks)
  const stack = (pts: number[][], rowIndex: number) => {
    const filled = [...pts]
    if (filled[0][0] > 0) filled.unshift([0, 0])
    if (filled[filled.length - 1][0] < 200) filled.push([200, 0])
    return filled.map(([x, v]) => ({ x, y: 9 - rowIndex + Math.min(v, 1) }))
  }
  return (
    <>
      {showLap && <Txt x={467} y={1057} size={18} rotate={-90}>Lap</Txt>}
      <Txt x={(plot[0] + plot[2]) / 2} y={1222.7} size={18}>Position</Txt>
      <div style={box.style}>
        <ComposedChart width={box.width} height={box.height} margin={box.margin}>
          <XAxis type="number" dataKey="x" height={PAD_BOTTOM} domain={[0, 200]} ticks={[50, 100, 150]} interval={0} tickMargin={7} {...boxAxis(18)} />
          <YAxis
            type="number"
            width={PAD_SIDE}
            domain={[0, 10]}
            ticks={ticks.map((t: any) => t[0])}
            interval={0}
            tickFormatter={(v: number) => labels.get(v) ?? ''}
            tickMargin={7}
            {...boxAxis(18)}
          />
          {[1, 2, 3, 4, 5, 6, 7, 8, 9].map(v => <ReferenceLine key={v} y={v} stroke="#333" strokeWidth={1.2} />)}
          <ReferenceArea x1={0} x2={200} y1={0} y2={10} fill="none" stroke="#262626" strokeWidth={1.8} />
          {laps.map((l: any, i: number) => (
            <Line key={`b${l.lap}`} data={stack(l.c46, i)} dataKey="y" type="monotone" stroke={BLUE_CELL} strokeWidth={2} dot={false} isAnimationActive={false} />
          ))}
          {laps.map((l: any, i: number) => (
            <Line key={`d${l.lap}`} data={stack(l.c28, i)} dataKey="y" type="monotone" stroke={DARK_CELL} strokeWidth={2} dot={false} isAnimationActive={false} />
          ))}
        </ComposedChart>
      </div>
    </>
  )
}

function AveragePanel() {
  const box = place([68.3, 1311.3, 319, 1368.3], true)
  return (
    <>
      <Txt x={193.7} y={1302} size={14} color="#111" weight={700}>Average over laps</Txt>
      <Txt x={46.7} y={1340.7} size={14.5} color="#4f6472" rotate={-90}>FR - Cell 28</Txt>
      <Txt x={339} y={1340.7} size={14.5} color={BLUE_CELL} rotate={-90}>FR - Cell 46</Txt>
      <Txt x={193} y={1399} size={14}>Distance</Txt>
      <div style={box.style}>
        <ComposedChart width={box.width} height={box.height} margin={box.margin}>
          <XAxis type="number" dataKey="x" height={PAD_BOTTOM} domain={[0, 200]} ticks={[0, 50, 100, 150, 200]} interval={0} tickMargin={7} {...boxAxis(14)} />
          <YAxis yAxisId="left" type="number" width={PAD_SIDE} domain={[0, 4]} ticks={[0, 2, 4]} interval={0} tickMargin={6} {...boxAxis(15, '#4f6472')} />
          <YAxis yAxisId="right" orientation="right" type="number" width={PAD_SIDE} domain={[0, 2]} ticks={[0, 1, 2]} interval={0} tickMargin={5} {...boxAxis(15, BLUE_CELL)} />
          <ReferenceArea yAxisId="left" x1={0} x2={200} y1={0} y2={4} fill="none" stroke="#3c4a54" strokeWidth={1.6} />
          <Line yAxisId="left" data={xy(AVG_28)} dataKey="y" type="monotone" stroke={DARK_CELL} strokeWidth={2.4} dot={false} isAnimationActive={false} />
          <Line yAxisId="right" data={xy(AVG_46)} dataKey="y" type="monotone" stroke={BLUE_CELL} strokeWidth={2.4} dot={false} isAnimationActive={false} />
        </ComposedChart>
      </div>
    </>
  )
}

function AverageXcorrPanel() {
  const box = place([68.3, 1431.7, 319, 1489.3], true)
  const band = XCORR_BAND.map(([x, lo, hi]) => ({ x, range: [lo, hi] }))
  return (
    <>
      <Txt x={193.7} y={1423} size={14} color="#111" weight={700}>Average x-corr</Txt>
      <Txt x={48} y={1456.7} size={14} color={MAGENTA} rotate={-90}>x-corr</Txt>
      <Txt x={347.5} y={1456.7} size={14} color={GREEN} rotate={-90}>p-value</Txt>
      <Txt x={195} y={1516} size={14}>Lag</Txt>
      <div style={box.style}>
        <ComposedChart width={box.width} height={box.height} margin={box.margin}>
          <XAxis type="number" dataKey="x" height={PAD_BOTTOM} domain={[-140, 140]} ticks={[-100, -50, 0, 50, 100]} interval={0} tickMargin={7} {...boxAxis(14)} />
          <YAxis yAxisId="left" type="number" width={PAD_SIDE} domain={[-1, 1]} ticks={[-1, 0, 1]} interval={0} tickMargin={6} {...boxAxis(15, MAGENTA)} />
          <YAxis yAxisId="right" orientation="right" type="number" width={PAD_SIDE} domain={[0, 1]} ticks={[0, 0.5, 1]} interval={0} tickMargin={5} {...boxAxis(15, GREEN)} />
          {[-100, -50, 50, 100].map(v => <ReferenceLine yAxisId="left" key={v} x={v} stroke="#dedede" strokeWidth={1} />)}
          <ReferenceLine yAxisId="left" x={0} stroke="#bdbdbd" strokeWidth={2} />
          <ReferenceLine yAxisId="left" y={0} stroke="#bdbdbd" strokeWidth={2} />
          <ReferenceArea yAxisId="left" x1={-140} x2={140} y1={-1} y2={1} fill="none" stroke="#3c3c3c" strokeWidth={1.6} />
          <Area yAxisId="left" data={band} dataKey="range" type="monotone" stroke="none" fill={MAGENTA} fillOpacity={0.7} isAnimationActive={false} />
          <Line yAxisId="left" data={xy(AVG_XCORR)} dataKey="y" type="monotone" stroke={MAGENTA} strokeWidth={3} dot={false} isAnimationActive={false} />
          <Line yAxisId="right" data={xy(P_VALUE)} dataKey="y" type="monotone" stroke={GREEN} strokeWidth={2.6} dot={false} isAnimationActive={false} />
          <ReferenceLine yAxisId="left" segment={[{ x: -19, y: 0.65 }, { x: 7, y: 0.65 }]} stroke="#000" strokeWidth={2} />
        </ComposedChart>
      </div>
    </>
  )
}

function MatrixPanel() {
  const plotW = 162.7
  const plotH = 177.6
  const cellW = plotW / 33 + 0.3
  const cellH = plotH / 33 + 0.3
  const box = place([395, 1311.7, 557.7, 1489.3])
  const cells = [...MATRIX_UPPER, ...MATRIX_LOWER].map(([row, col, d]) => ({ x: col, y: row, d }))
  return (
    <>
      <Txt x={475.7} y={1300} size={13.7} color="#111" weight={700}>Sorted Distance Matrix</Txt>
      <Txt x={357.7} y={1393} size={15} rotate={-90}>Cell pair #</Txt>
      <Txt x={482.3} y={1515} size={15}>Cell pair #</Txt>
      <div style={box.style}>
        <ComposedChart width={box.width} height={box.height} margin={box.margin}>
          <XAxis type="number" dataKey="x" height={PAD_BOTTOM} domain={[0.5, 33.5]} ticks={[10, 20, 30]} interval={0} tickMargin={5} {...boxAxis(14.5)} />
          <YAxis type="number" dataKey="y" width={PAD_SIDE} reversed domain={[0.5, 33.5]} ticks={[5, 10, 15, 20, 25, 30]} interval={0} tickMargin={6} {...boxAxis(14.5)} />
          <ReferenceArea x1={0.5} x2={33.5} y1={0.5} y2={33.5} fill="#e9e5ea" fillOpacity={1} />
          <Scatter
            data={cells}
            dataKey="y"
            isAnimationActive={false}
            shape={(p: any) => (
              <rect
                x={p.cx - cellW / 2}
                y={p.cy - cellH / 2}
                width={cellW}
                height={cellH}
                fill={mapColor(TURBO, p.payload.d / 131.5)}
              />
            )}
          />
          <ReferenceArea x1={0.5} x2={33.5} y1={0.5} y2={33.5} fill="none" stroke="#3c3c3c" strokeWidth={1.8} />
        </ComposedChart>
      </div>
      <Colorbar
        plot={[565, 1311, 582.3, 1490]}
        id="turbo-f"
        stops={TURBO}
        domain={[0, 131.5]}
        ticks={[0, 20, 40, 60, 80, 100, 120]}
        size={14.5}
        font={ARIAL}
        tickSize={-3}
        strokeWidth={1.6}
        tickColor="#262626"
      />
    </>
  )
}

function MdsPanel() {
  const box = place([658.3, 1314, 858.3, 1485.7])
  const points = MDS_DIM1.map((x, i) => ({ x, y: MDS_DIM2[i] }))
  const axis = { ...boxAxis(12), axisLine: { stroke: '#262626', strokeWidth: 1.9 } }
  return (
    <>
      <Txt x={755.7} y={1305} size={11.5} color="#111" weight={700}>2D MDS</Txt>
      <Txt x={622.7} y={1401.7} size={14.5} rotate={-90}>Dimension 2</Txt>
      <Txt x={758.3} y={1515} size={14.5}>Dimension 1</Txt>
      <div style={box.style}>
        <ComposedChart width={box.width} height={box.height} margin={box.margin}>
          <XAxis type="number" dataKey="x" height={PAD_BOTTOM} domain={[-100, 100]} ticks={[-100, -50, 0, 50, 100]} interval={0} tickMargin={6} {...axis} />
          <YAxis type="number" dataKey="y" width={PAD_SIDE} domain={[-100, 100]} ticks={[-100, -50, 0, 50, 100]} interval={0} tickMargin={7} {...axis} />
          <Scatter
            data={points}
            dataKey="y"
            isAnimationActive={false}
            shape={(p: any) => <circle cx={p.cx} cy={p.cy} r={4} fill="#ff00cc" fillOpacity={0.3} />}
          />
        </ComposedChart>
      </div>
    </>
  )
}

export default function App() {
  return (
    <div style={{ position: 'absolute', left: 0, top: 0, width: 867, height: 1523, overflow: 'hidden', background: '#fff' }}>
      <PanelLetter x={37} y={24}>A</PanelLetter>
      <PanelLetter x={37} y={437}>B</PanelLetter>
      <PanelLetter x={451} y={437}>C</PanelLetter>
      <PanelLetter x={35} y={915}>D</PanelLetter>
      <PanelLetter x={37} y={1271}>E</PanelLetter>
      <PanelLetter x={357} y={1271}>F</PanelLetter>
      <PanelLetter x={627} y={1271}>G</PanelLetter>

      <UmapPanel dx={0} colorKey={2} title="Distance" barLabel="Distance (cm)" />
      <UmapPanel dx={449} colorKey={3} title="Position" barLabel="Position (cm)" />
      <TuningPanel />
      <MappingPanel />
      <CellHeat />
      <XcorrPanel />
      <LapColumn plot={[497.3, 923.3, 655, 1190.7]} laps={ODD_LAPS} ticks={ODD_TICKS} showLap />
      <LapColumn plot={[695.7, 923.3, 854, 1190.7]} laps={EVEN_LAPS} ticks={EVEN_TICKS} />
      <AveragePanel />
      <AverageXcorrPanel />
      <MatrixPanel />
      <MdsPanel />

      <svg width={867} height={1523} style={{ position: 'absolute', left: 0, top: 0, pointerEvents: 'none' }}>
        <line x1={415} y1={923} x2={479.3} y2={949.3} stroke="#000" strokeWidth={2.2} />
        <line x1={424} y1={1020.7} x2={477.3} y2={978.3} stroke="#000" strokeWidth={2.2} />
      </svg>
    </div>
  )
}
